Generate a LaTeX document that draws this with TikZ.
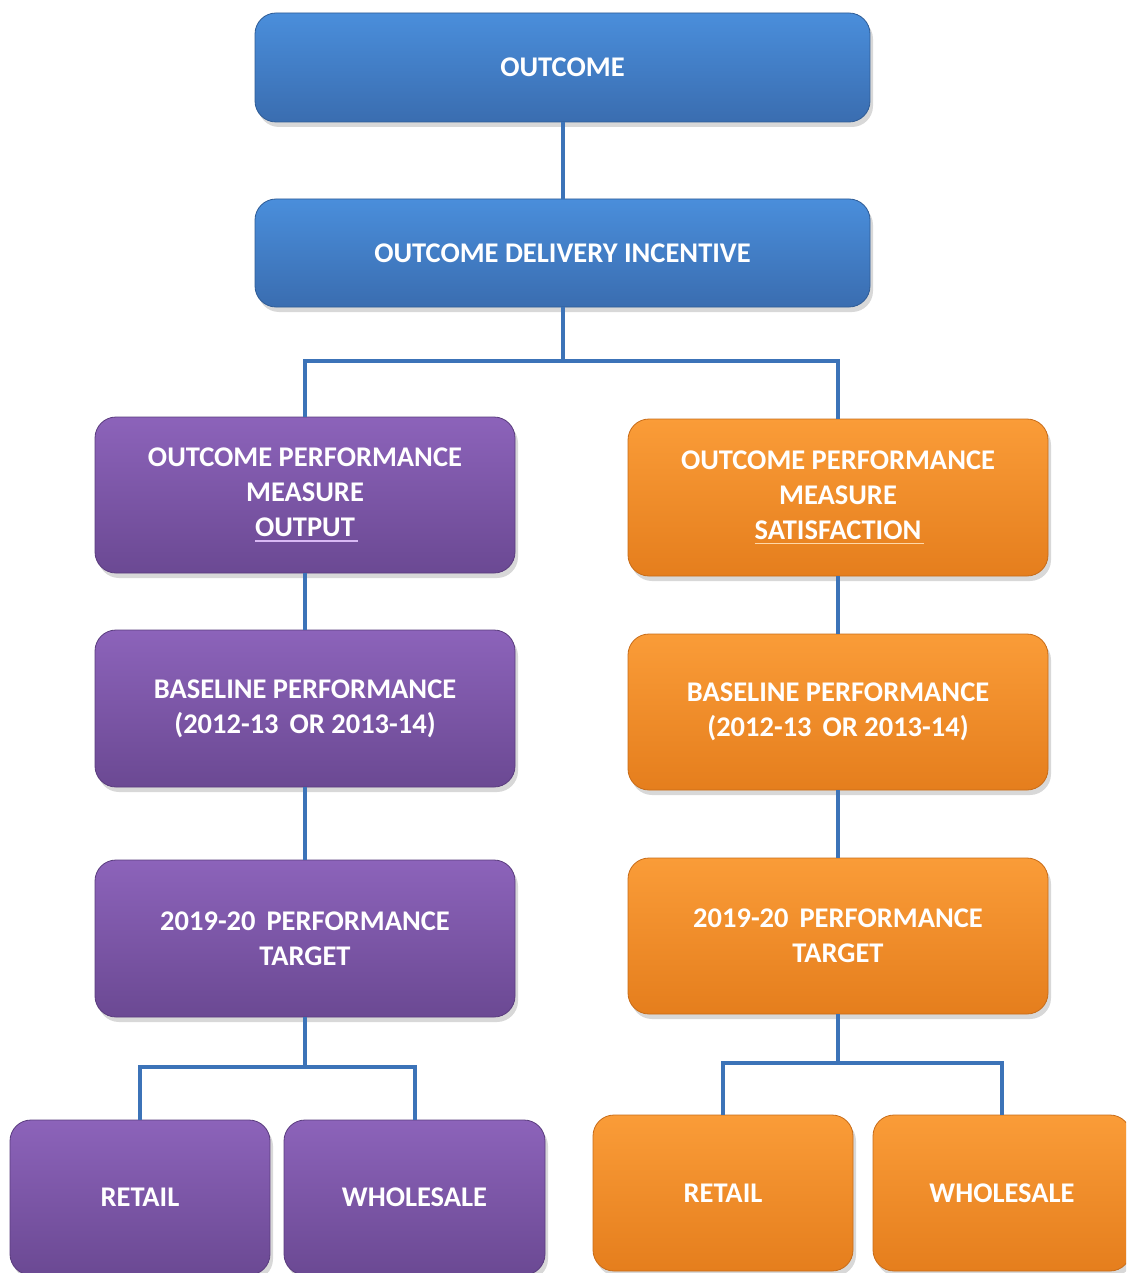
\documentclass[tikz,border=0pt]{standalone}
\usepackage{fontspec}
\setmainfont{Carlito}
\usetikzlibrary{shadows}
\definecolor{bluetop}{HTML}{4A8EDB}
\definecolor{bluebot}{HTML}{3A6DB0}
\definecolor{bluedraw}{HTML}{2F5C96}
\definecolor{purtop}{HTML}{8C63BA}
\definecolor{purbot}{HTML}{6B4993}
\definecolor{purdraw}{HTML}{5A3C7E}
\definecolor{ortop}{HTML}{FA9C38}
\definecolor{orbot}{HTML}{E57E1D}
\definecolor{ordraw}{HTML}{C86C18}
\definecolor{connc}{HTML}{3C73B8}
\definecolor{ulpur}{HTML}{D8B8F4}
\definecolor{ulor}{HTML}{FFD8A8}
\newcommand\myul[2]{\setbox0\hbox{#2}\rlap{\color{#1}\rule[-5pt]{\dimexpr\wd0+3pt\relax}{1.8pt}}\box0}
\newcommand\wsp{\ \hspace{4.5pt}}
\tikzset{
  boxbase/.style={rectangle, rounded corners=21pt, align=center, text=white,
    font=\fontsize{28.5}{35}\selectfont\bfseries, inner sep=0pt,
    drop shadow={shadow xshift=3pt, shadow yshift=-5pt, opacity=0.3}},
  bluebox/.style={boxbase, top color=bluetop, bottom color=bluebot, draw=bluedraw, line width=0.8pt},
  purbox/.style={boxbase, top color=purtop, bottom color=purbot, draw=purdraw, line width=0.8pt},
  orbox/.style={boxbase, top color=ortop, bottom color=orbot, draw=ordraw, line width=0.8pt},
  conn/.style={draw=connc, line width=4pt}
}
\begin{document}
\begin{tikzpicture}[x=1pt,y=-1pt]
\clip (0,0) rectangle (1126,1273);
\fill[white] (0,0) rectangle (1126,1273);
% top
\node[bluebox, minimum width=615pt, minimum height=109pt] (out) at (562.5,67.5) {OUTCOME};
\node[bluebox, minimum width=615pt, minimum height=108pt] (odi) at (562.5,253) {OUTCOME DELIVERY INCENTIVE};
% left column
\node[purbox, minimum width=420pt, minimum height=156pt] (opmL) at (305,495) {OUTCOME PERFORMANCE\\MEASURE\\\myul{ulpur}{OUTPUT}};
\node[purbox, minimum width=420pt, minimum height=157pt] (baseL) at (305,708.5) {BASELINE PERFORMANCE\\(2012-13\wsp OR 2013-14)};
\node[purbox, minimum width=420pt, minimum height=157pt] (tgtL) at (305,938.5) {2019-20\wsp PERFORMANCE\\TARGET};
% right column
\node[orbox, minimum width=420pt, minimum height=157pt] (opmR) at (838,497.5) {OUTCOME PERFORMANCE\\MEASURE\\\myul{ulor}{SATISFACTION}};
\node[orbox, minimum width=420pt, minimum height=156pt] (baseR) at (838,712) {BASELINE PERFORMANCE\\(2012-13\wsp OR 2013-14)};
\node[orbox, minimum width=420pt, minimum height=156pt] (tgtR) at (838,936) {2019-20\wsp PERFORMANCE\\TARGET};
% bottom row
\node[purbox, minimum width=260pt, minimum height=155pt] (retL) at (140,1197.5) {RETAIL};
\node[purbox, minimum width=261pt, minimum height=155pt] (whlL) at (414.5,1197.5) {WHOLESALE};
\node[orbox, minimum width=260pt, minimum height=156pt] (retR) at (723,1193) {RETAIL};
\node[orbox, minimum width=258pt, minimum height=156pt] (whlR) at (1002,1193) {WHOLESALE};
% connectors
\coordinate (j1) at (562.5,361);
\coordinate (j2) at (305,1067);
\coordinate (j3) at (838,1063);
\draw[conn] (out.south) -- (odi.north);
\draw[conn] (odi.south) -- (j1);
\draw[conn] (j1) -| (opmL.north);
\draw[conn] (j1) -| (opmR.north);
\draw[conn] (opmL.south) -- (baseL.north);
\draw[conn] (baseL.south) -- (tgtL.north);
\draw[conn] (opmR.south) -- (baseR.north);
\draw[conn] (baseR.south) -- (tgtR.north);
\draw[conn] (tgtL.south) -- (j2);
\draw[conn] (j2) -| (retL.north);
\draw[conn] (j2) -| (whlL.north);
\draw[conn] (tgtR.south) -- (j3);
\draw[conn] (j3) -| (retR.north);
\draw[conn] (j3) -| (whlR.north);
\end{tikzpicture}
\end{document}
